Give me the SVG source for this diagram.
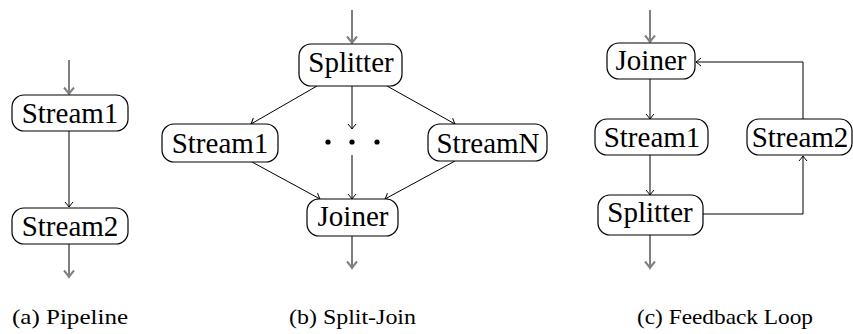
<svg xmlns="http://www.w3.org/2000/svg" width="853" height="334" viewBox="0 0 853 334">
<style>
.box{fill:#fff;stroke:#000;stroke-width:1.2}
.lbl{font-family:'Liberation Serif', serif;font-size:29px;fill:#000;text-anchor:middle}
.cap{font-family:'Liberation Serif', serif;font-size:22px;fill:#000}
.blk{fill:none;stroke:#000;stroke-width:1}
.gry{fill:none;stroke:#808080;stroke-width:2}
.dot{fill:#000}
</style>
<defs>
<marker id="ab" markerUnits="userSpaceOnUse" markerWidth="12" markerHeight="12" viewBox="-7 -6 8 12" refX="0" refY="0" orient="auto">
<path d="M-5,-4 Q-1.5,-1 0,0 Q-1.5,1 -5,4" fill="none" stroke="#000" stroke-width="1"/>
</marker>
<marker id="ag" markerUnits="userSpaceOnUse" markerWidth="14" markerHeight="14" viewBox="-8 -7 9 14" refX="0" refY="0" orient="auto">
<path d="M-6.5,-5 Q-2,-1.2 0,0 Q-2,1.2 -6.5,5" fill="none" stroke="#808080" stroke-width="2"/>
</marker>
</defs>

<g id="connectors">
<line class="gry" x1="69" y1="60" x2="69" y2="94" marker-end="url(#ag)"/>
<line class="blk" x1="69" y1="131" x2="69" y2="207" marker-end="url(#ab)"/>
<line class="gry" x1="69" y1="244" x2="69" y2="277" marker-end="url(#ag)"/>
<line class="gry" x1="352" y1="10" x2="352" y2="43" marker-end="url(#ag)"/>
<line class="blk" x1="317" y1="86" x2="251" y2="124" marker-end="url(#ab)"/>
<line class="blk" x1="352" y1="86" x2="352" y2="129" marker-end="url(#ab)"/>
<line class="blk" x1="387" y1="86" x2="455" y2="124" marker-end="url(#ab)"/>
<line class="blk" x1="252" y1="162" x2="320" y2="199" marker-end="url(#ab)"/>
<line class="blk" x1="352" y1="155" x2="352" y2="199" marker-end="url(#ab)"/>
<line class="blk" x1="455" y1="161" x2="385" y2="199" marker-end="url(#ab)"/>
<line class="gry" x1="352" y1="236" x2="352" y2="268" marker-end="url(#ag)"/>
<line class="gry" x1="650" y1="10" x2="650" y2="42" marker-end="url(#ag)"/>
<line class="blk" x1="650" y1="79" x2="650" y2="119" marker-end="url(#ab)"/>
<line class="blk" x1="650" y1="155" x2="650" y2="195" marker-end="url(#ab)"/>
<line class="gry" x1="650" y1="235" x2="650" y2="268" marker-end="url(#ag)"/>
<polyline class="blk" points="703,214 803,214 803,156" marker-end="url(#ab)"/>
<polyline class="blk" points="803,119 803,62 696,62" marker-end="url(#ab)"/>
</g>

<g id="pipe-stream1"><rect class="box" x="12" y="95" width="116" height="36" rx="12"/><text class="lbl" x="70" y="123">Stream1</text></g>
<g id="pipe-stream2"><rect class="box" x="12" y="208" width="116" height="36" rx="12"/><text class="lbl" x="70" y="236">Stream2</text></g>

<g id="sj-splitter"><rect class="box" x="299" y="44" width="103" height="42" rx="12"/><text class="lbl" x="351" y="72">Splitter</text></g>
<g id="sj-stream1"><rect class="box" x="162" y="124" width="116" height="38" rx="12"/><text class="lbl" x="220" y="153">Stream1</text></g>
<g id="sj-dots"><circle class="dot" cx="328" cy="142" r="2.6"/><circle class="dot" cx="352" cy="142" r="2.6"/><circle class="dot" cx="377" cy="142" r="2.6"/></g>
<g id="sj-streamN"><rect class="box" x="428" y="124" width="119" height="37" rx="12"/><text class="lbl" x="488" y="153">StreamN</text></g>
<g id="sj-joiner"><rect class="box" x="307" y="199" width="91" height="37" rx="12"/><text class="lbl" x="353" y="226">Joiner</text></g>

<g id="fb-joiner"><rect class="box" x="607" y="43" width="88" height="36" rx="12"/><text class="lbl" x="651" y="70">Joiner</text></g>
<g id="fb-stream1"><rect class="box" x="595" y="119" width="113" height="36" rx="12"/><text class="lbl" x="652" y="147">Stream1</text></g>
<g id="fb-splitter"><rect class="box" x="598" y="195" width="105" height="40" rx="12"/><text class="lbl" x="650" y="222">Splitter</text></g>
<g id="fb-stream2"><rect class="box" x="747" y="119" width="105" height="36" rx="12"/><text class="lbl" x="800" y="147">Stream2</text></g>

<g id="captions">
<text class="cap" x="12" y="324" textLength="116" lengthAdjust="spacingAndGlyphs">(a) Pipeline</text>
<text class="cap" x="289" y="324" textLength="127" lengthAdjust="spacingAndGlyphs">(b) Split-Join</text>
<text class="cap" x="637" y="324" textLength="176" lengthAdjust="spacingAndGlyphs">(c) Feedback Loop</text>
</g>
</svg>
